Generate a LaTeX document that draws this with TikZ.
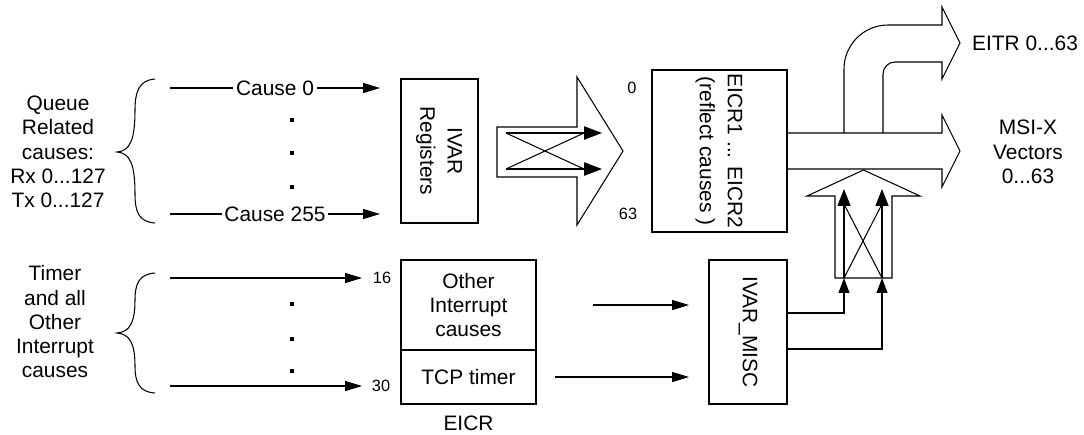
\documentclass[tikz,border=0pt]{standalone}
\usepackage{fontspec}
\setmainfont{Liberation Sans}
\usetikzlibrary{arrows.meta}
\begin{document}
\begin{tikzpicture}[x=0.02cm,y=-0.02cm, line join=miter,
  every node/.style={font=\fontsize{11.9}{13.8}\selectfont, inner sep=0pt},
  box/.style={draw, line width=0.8pt, inner sep=0pt},
  ln/.style={line width=0.6pt},
  arr/.style={ln, -{Triangle[length=9.6pt,width=5.7pt]}},
  bigarr/.style={ln, -{Triangle[length=10.2pt,width=7.6pt]}},
  uparr/.style={ln, -{Triangle[length=9.6pt,width=7.4pt]}},
  smallarr/.style={ln, -{Triangle[length=8.5pt,width=6.2pt]}},
  small/.style={font=\fontsize{9.3}{11}\selectfont},
  blk/.style={draw, line width=0.6pt},
  lbl/.style={fill=white, inner xsep=1.5pt, inner ysep=1pt},
  dotm/.style={fill=black}
]
\useasboundingbox (0,0) rectangle (1084,434);

% ---------- left labels and braces ----------
\node[align=center] (qlabel) at (58,152) {Queue\\Related\\causes:\\Rx 0...127\\Tx 0...127};
\node[align=center] (tlabel) at (55,322) {Timer\\and all\\Other\\Interrupt\\causes};

\draw[ln] (155,79) .. controls (139,80) and (135,92) .. (135,110)
  .. controls (135,140) and (130,151) .. (117,152)
  .. controls (130,153) and (135,164) .. (135,194)
  .. controls (135,212) and (139,222) .. (155,223);
\draw[ln] (155,273) .. controls (139,274) and (135,284) .. (135,300)
  .. controls (135,322) and (130,332) .. (117,333)
  .. controls (130,334) and (135,344) .. (135,366)
  .. controls (135,382) and (139,392) .. (155,393);

% ---------- cause arrows ----------
\coordinate (c0s) at (170,88);  \coordinate (c0e) at (380,88);
\coordinate (c255s) at (170,214); \coordinate (c255e) at (380,214);
\draw[arr] (c0s) -- node[lbl] (c0) {Cause 0} (c0e);
\draw[arr] (c255s) -- node[lbl] (c255) {Cause 255} (c255e);
\foreach \yy in {120,153,187} \fill[dotm] (290.2,\yy-1.8) rectangle (293.8,\yy+1.8);

\coordinate (t16s) at (170,278); \coordinate (t16e) at (362,278);
\coordinate (t30s) at (170,386); \coordinate (t30e) at (362,386);
\draw[arr] (t16s) -- (t16e);
\draw[arr] (t30s) -- (t30e);
\foreach \yy in {304,339,371} \fill[dotm] (290.2,\yy-1.8) rectangle (293.8,\yy+1.8);
\node[small] (n16) at (382,278) {16};
\node[small] (n30) at (381,386) {30};

% ---------- IVAR registers ----------
\node[box, minimum width=1.54cm, minimum height=2.88cm] (ivar) at (439.5,151)
  {\rotatebox{-90}{\renewcommand{\arraystretch}{1.12}\begin{tabular}{@{}c@{}}IVAR\\Registers\end{tabular}}};

% ---------- first block arrow ----------
\draw[blk] (497,127) -- (577,127) -- (577,77) -- (623,151) -- (577,225) -- (577,177) -- (497,177) -- cycle;
\coordinate (h1s) at (506,133); \coordinate (h1e) at (602,133); \coordinate (h1b) at (584,133);
\coordinate (h2s) at (506,169); \coordinate (h2e) at (602,169); \coordinate (h2b) at (584,169);
\draw[bigarr] (h1s) -- (h1e);
\draw[bigarr] (h2s) -- (h2e);
\draw[ln] (h1s) -- (h2b);
\draw[ln] (h2s) -- (h1b);
\node[small] (n0) at (632,88) {0};
\node[small] (n63) at (628,214) {63};

% ---------- EICR1 box ----------
\node[box, minimum width=2.70cm, minimum height=3.24cm] (eicr1) at (719.5,151)
  {\rotatebox{-90}{\renewcommand{\arraystretch}{1.15}\begin{tabular}{@{}c@{}}EICR1 ... EICR2\\(reflect causes )\end{tabular}}};

% ---------- MSI-X and EITR block arrows ----------
\draw[blk] (787,133) -- (942,133) -- (942,115) -- (960,151) -- (942,187) -- (942,169) -- (787,169);
\draw[blk] (844,133) -- (844,69) arc[start angle=180, end angle=270, radius=44]
  -- (942,25) -- (942,7) -- (960,43) -- (942,79) -- (942,62) -- (895,62)
  arc[start angle=270, end angle=180, radius=12] -- (883,133);
\node (eitr) at (1025,43) {EITR 0...63};
\node[align=center] (msix) at (1028,152) {MSI-X\\Vectors\\0...63};

% ---------- up block arrow ----------
\draw[blk, fill=white] (835,278) -- (835,196) -- (807,196) -- (863.5,170) -- (920,196) -- (892,196) -- (892,278) -- cycle;
\coordinate (ua1) at (844,278); \coordinate (ua2) at (882,278);
\coordinate (ut1) at (844,189); \coordinate (ut2) at (882,189);
\coordinate (ub1) at (844,204); \coordinate (ub2) at (882,204);
\draw[uparr] (ua1) -- (ut1);
\draw[uparr] (ua2) -- (ut2);
\draw[ln] (ua1) -- (ub2);
\draw[ln] (ua2) -- (ub1);

% ---------- EICR lower box ----------
\node[box, minimum width=2.70cm, minimum height=1.80cm, align=center] (eother) at (468.5,305) {Other\\Interrupt\\causes};
\node[box, minimum width=2.70cm, minimum height=1.08cm] (etcp) at (468.5,377) {TCP timer};
\node (eicrlbl) at (468.5,423) {EICR};

% ---------- IVAR_MISC ----------
\node[box, minimum width=1.56cm, minimum height=2.88cm] (ivarmisc) at (748,332)
  {\rotatebox{-90}{IVAR\_MISC}};
\coordinate (o1s) at (593,305); \coordinate (o1e) at (689,305);
\coordinate (o2s) at (555,377); \coordinate (o2e) at (689,377);
\draw[arr] (o1s) -- (o1e);
\draw[arr] (o2s) -- (o2e);
\coordinate (m1) at (787,313); \coordinate (m2) at (787,349);
\draw[smallarr] (m1) -| (ua1);
\draw[smallarr] (m2) -| (ua2);
\end{tikzpicture}
\end{document}
